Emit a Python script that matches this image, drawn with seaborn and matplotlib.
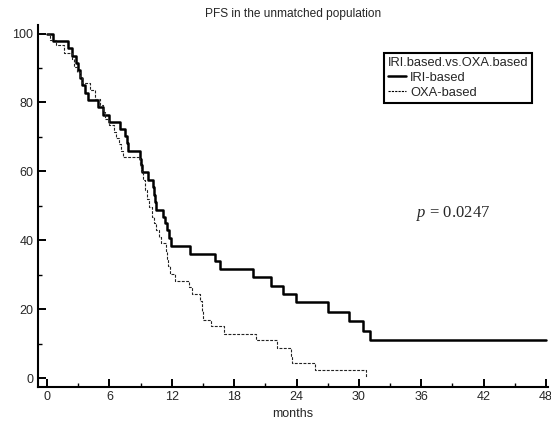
import matplotlib
matplotlib.use("Agg")
import matplotlib.pyplot as plt
import seaborn as sns
import pandas as pd
from matplotlib.lines import Line2D
from matplotlib.ticker import MultipleLocator

# ---- data ----
iri_t = [0, 0.6, 2.0, 2.4, 2.8, 3.0, 3.2, 3.4, 3.65, 3.9, 4.9, 5.4, 6.0, 7.0,
         7.5, 7.65, 7.8, 8.9, 9.05, 9.15, 9.7, 10.2, 10.3, 10.4, 10.5, 11.2,
         11.35, 11.5, 11.75, 11.9, 13.75, 16.2, 16.6, 19.8, 21.5, 22.7, 23.9,
         27.0, 29.0, 30.4, 31.1, 48]
iri_s = [100, 97.8, 95.7, 93.6, 91.4, 89.3, 87.1, 85.0, 82.8, 80.8, 78.6, 76.5,
         74.3, 72.4, 70.2, 68.1, 65.9, 63.7, 61.9, 59.8, 57.5, 55.4, 53.2, 51.0,
         48.9, 46.8, 44.9, 42.9, 40.6, 38.4, 36.1, 33.9, 31.6, 29.2, 26.8, 24.4,
         22.1, 19.3, 16.5, 13.7, 11.0, 11.0]

oxa_t = [0, 0.3, 0.9, 1.6, 2.4, 2.6, 2.9, 3.2, 3.4, 4.1, 4.6, 5.1, 5.4, 5.6,
         6.0, 6.4, 6.6, 6.9, 7.1, 7.3, 8.9, 9.05, 9.2, 9.4, 9.6, 9.8, 10.1,
         10.3, 10.5, 10.8, 11.0, 11.4, 11.5, 11.6, 11.8, 12.3, 13.7, 13.9, 14.7,
         14.9, 15.0, 15.8, 17.0, 20.1, 22.1, 23.5, 23.6, 25.8, 30.7]
oxa_s = [100, 98.2, 96.6, 94.5, 92.5, 90.3, 88.8, 87.3, 85.7, 83.7, 81.1, 79.3,
         77.2, 75.3, 73.4, 71.4, 69.7, 68.0, 66.0, 64.1, 62.0, 60.0, 57.4, 54.7,
         52.1, 49.7, 46.8, 44.9, 42.9, 41.0, 39.2, 37.0, 34.5, 32.4, 30.3, 28.2,
         26.3, 24.5, 22.3, 19.5, 16.8, 15.1, 12.7, 11.0, 8.6, 6.5, 4.3, 2.3, 0.0]

group_labels = ["IRI-based", "OXA-based"]
legend_title = "IRI.based.vs.OXA.based"
x_ticks = [0, 6, 12, 18, 24, 30, 36, 42, 48]
y_ticks = [0, 20, 40, 60, 80, 100]
title = "PFS in the unmatched population"
xlabel = "months"
p_text = r"$\mathit{p}$ = 0.0247"

# ---- style ----
sns.set_style("ticks")
plt.rcParams["font.family"] = ["Liberation Sans", "DejaVu Sans"]
plt.rcParams["mathtext.fontset"] = "custom"
plt.rcParams["mathtext.it"] = "Liberation Serif:italic"
plt.rcParams["mathtext.rm"] = "Liberation Serif"

fig = plt.figure(figsize=(5.51, 4.23), dpi=100)
ax = fig.add_axes([0.0684, 0.085, 0.9262, 0.856])

df_iri = pd.DataFrame({"months": iri_t, "surv": iri_s})
df_oxa = pd.DataFrame({"months": oxa_t, "surv": oxa_s})

sns.lineplot(data=df_iri, x="months", y="surv", ax=ax, color="black",
             lw=1.8, drawstyle="steps-post", estimator=None, sort=False)
sns.lineplot(data=df_oxa, x="months", y="surv", ax=ax, color="#222222",
             lw=0.8, linestyle=(0, (2.6, 1.3)), drawstyle="steps-post",
             estimator=None, sort=False)

ax.set_xlim(-0.9, 48.19)
ax.set_ylim(-2.6, 102.5)
ax.set_xticks(x_ticks)
ax.set_yticks(y_ticks)
ax.xaxis.set_minor_locator(MultipleLocator(3))
ax.yaxis.set_minor_locator(MultipleLocator(10))
ax.tick_params(which="major", direction="in", length=5.5, width=1.4,
               labelsize=9, pad=3.2, color="black")
ax.tick_params(which="minor", direction="in", length=3, width=1.0,
               color="black")
for s in ["top", "right"]:
    ax.spines[s].set_visible(False)
for s in ["left", "bottom"]:
    ax.spines[s].set_linewidth(1.5)
    ax.spines[s].set_color("black")

ax.set_xlabel(xlabel, fontsize=9, labelpad=3)
ax.set_ylabel("")
ax.set_title(title, fontsize=8.6, pad=6)

handles = [Line2D([], [], color="black", lw=1.8),
           Line2D([], [], color="black", lw=0.8, linestyle=(0, (2.0, 1.0)))]
leg = ax.legend(handles, group_labels, title=legend_title,
                loc="upper left", bbox_to_anchor=(0.679, 0.922),
                borderaxespad=0, fontsize=9.3, title_fontsize=9.3,
                frameon=True, fancybox=False, edgecolor="black",
                handlelength=1.35, handletextpad=0.35, borderpad=0.3,
                labelspacing=0.22, framealpha=1)
leg._legend_box.align = "left"
leg.get_frame().set_linewidth(1.5)

ax.text(0.741, 0.478, p_text, transform=ax.transAxes, fontsize=12,
        family="Liberation Serif", va="center", ha="left")

fig.savefig("out.png", dpi=100)
